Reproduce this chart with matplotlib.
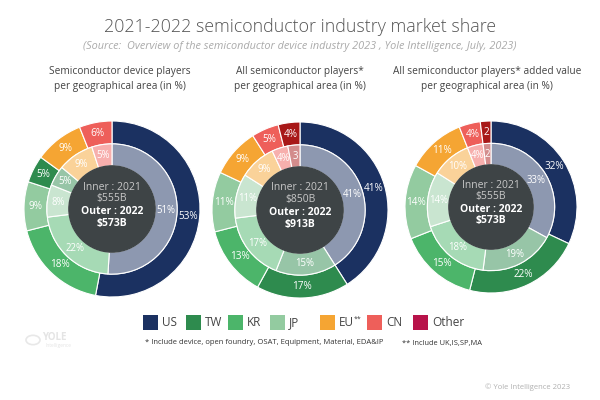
import matplotlib
matplotlib.use("Agg")
import matplotlib.pyplot as plt
from matplotlib.patches import Circle, Rectangle
from matplotlib.colors import to_rgb

plt.rcParams['font.family'] = ['Open Sans', 'DejaVu Sans']

regions = ["US", "TW", "KR", "JP", "EU", "CN", "Other"]
legend_labels = ["US", "TW", "KR", "JP", "EU", "CN", "Other"]
colors = {"US": "#1b3161", "TW": "#2e8b4e", "KR": "#4cb56a", "JP": "#93cba0",
          "EU": "#f5a533", "CN": "#ee5f5a", "Other": "#a81818"}
legend_other = "#b8134a"

# chart 1: device players (order around the ring differs)
dev_order = ["US", "KR", "JP", "TW", "EU", "CN"]
dev_2021 = [51, 22, 8, 5, 9, 5]
dev_2022 = [53, 18, 9, 5, 9, 6]

# chart 2: all semiconductor players
all_order = ["US", "TW", "KR", "JP", "EU", "CN", "Other"]
all_2021 = [41, 15, 17, 11, 9, 4, 3]
all_2022 = [41, 17, 13, 11, 9, 5, 4]

# chart 3: added value
av_order = ["US", "TW", "KR", "JP", "EU", "CN", "Other"]
av_2021 = [33, 19, 18, 14, 10, 4, 2]
av_2022 = [32, 22, 15, 14, 11, 4, 2]

titles = ["Semiconductor device players\nper geographical area (in %)",
          "All semiconductor players*\nper geographical area (in %)",
          "All semiconductor players* added value\nper geographical area (in %)"]
inner_totals = ["$555B", "$850B", "$555B"]
outer_totals = ["$573B", "$913B", "$573B"]

charts = [(dev_order, dev_2021, dev_2022),
          (all_order, all_2021, all_2022),
          (av_order, av_2021, av_2022)]
centers = [(112, 209, 88), (300, 210, 88), (491, 207, 86)]
title_x = [120, 300, 487]

W, H = 600, 400
fig = plt.figure(figsize=(6, 4), dpi=100)
fig.patch.set_facecolor("white")


def lighten(c, a=0.5):
    r, g, b = to_rgb(c)
    return (1 - a * (1 - r), 1 - a * (1 - g), 1 - a * (1 - b))


def fmt(p):
    v = round(p)
    return f"{v}%" if v > 3 else f"{v}"


for i, (order, inner, outer) in enumerate(charts):
    cx, cy, r = centers[i]
    ax = fig.add_axes([(cx - r) / W, (H - cy - r) / H, 2 * r / W, 2 * r / H])
    cols = [colors[k] for k in order]
    wp = dict(edgecolor="white", linewidth=0.8)
    ax.pie(outer, radius=1.0, colors=cols, startangle=90, counterclock=False,
           wedgeprops=dict(width=0.26, **wp), autopct=fmt, pctdistance=0.87,
           textprops=dict(color="white", fontsize=7.2))
    ax.pie(inner, radius=0.74, colors=[lighten(c) for c in cols], startangle=90,
           counterclock=False, wedgeprops=dict(width=0.25, **wp), autopct=fmt,
           pctdistance=0.83, textprops=dict(color="white", fontsize=6.9))
    ax.add_patch(Circle((0, 0), 0.49, color="#3e4446", zorder=3))
    ax.text(0, 0.25, "Inner : 2021", ha="center", va="center", color="#c8c8c8",
            fontsize=7.5, zorder=4)
    ax.text(0, 0.12, inner_totals[i], ha="center", va="center", color="#c8c8c8",
            fontsize=7.5, zorder=4)
    ax.text(0, -0.03, "Outer : 2022", ha="center", va="center", color="white",
            fontsize=7.5, fontweight="bold", zorder=4)
    ax.text(0, -0.16, outer_totals[i], ha="center", va="center", color="white",
            fontsize=7.5, fontweight="bold", zorder=4)
    ax.set_xlim(-1, 1)
    ax.set_ylim(-1, 1)
    ax.set_aspect("equal")
    ax.axis("off")
    fig.text(title_x[i] / W, 1 - 79 / H, titles[i], ha="center", va="center",
             fontsize=7.3, color="#444444", linespacing=1.5)

fig.text(0.5, 1 - 27 / H, "2021-2022 semiconductor industry market share",
         ha="center", va="center", fontsize=12.8, color="#555555", fontweight="light")
fig.text(0.5, 1 - 46 / H,
         "(Source:  Overview of the semiconductor device industry 2023 , Yole Intelligence, July, 2023)",
         ha="center", va="center", fontsize=7.8, color="#aaaaaa", style="italic")

# legend: squares and names
leg_x = [143, 186, 228, 270, 320, 367, 413]
for k, lab, x in zip(regions, legend_labels, leg_x):
    c = legend_other if k == "Other" else colors[k]
    fig.patches.append(Rectangle((x / W, 1 - 330 / H), 15 / W, 15 / H,
                                 transform=fig.transFigure, facecolor=c,
                                 edgecolor="none"))
    fig.text((x + 19) / W, 1 - 322.5 / H, lab, ha="left", va="center",
             fontsize=8.5, color="#444444")
fig.text(354 / W, 1 - 319 / H, "**", ha="left", va="center", fontsize=5,
         color="#444444")

fig.text(145 / W, 1 - 343 / H,
         "* Include device, open foundry, OSAT, Equipment, Material, EDA&IP",
         ha="left", va="center", fontsize=5.5, color="#333333")
fig.text(402 / W, 1 - 343 / H, "** Include UK,IS,SP,MA",
         ha="left", va="center", fontsize=5.4, color="#333333")
fig.text(570 / W, 1 - 387 / H, "\u00a9 Yole Intelligence 2023", ha="right",
         va="center", fontsize=5.5, color="#b0b0b0")
fig.text(42 / W, 1 - 338 / H, "YOLE", ha="left", va="center", fontsize=7,
         color="#e4e4e4", fontweight="bold")
fig.text(45 / W, 1 - 345 / H, "Intelligence", ha="left", va="center", fontsize=3.5,
         color="#e4e4e4")
fig.patches.append(Circle((33 / W, 1 - 340 / H), 7 / W, transform=fig.transFigure,
                          facecolor="none", edgecolor="#e8e8e8", linewidth=1.2))

fig.savefig("out.png", dpi=100)
